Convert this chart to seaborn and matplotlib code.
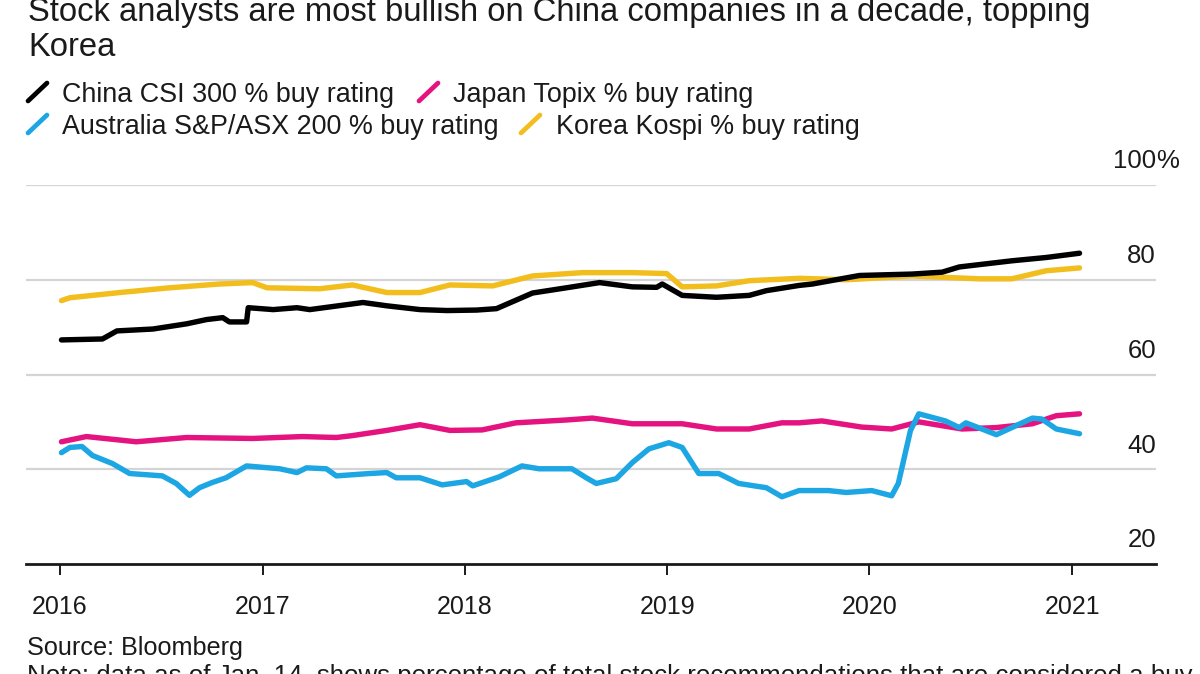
import matplotlib
matplotlib.use("Agg")
import matplotlib.pyplot as plt
from matplotlib.lines import Line2D
import seaborn as sns
import pandas as pd

# ---------------- data ----------------
china_dates = ["2016-01-04", "2016-03-18", "2016-04-13", "2016-06-17", "2016-08-17", "2016-09-22",
               "2016-10-21", "2016-11-02", "2016-12-03", "2016-12-06", "2017-01-20", "2017-03-04",
               "2017-03-27", "2017-06-12", "2017-07-01", "2017-08-13", "2017-10-12", "2017-11-30",
               "2018-01-22", "2018-02-27", "2018-05-03", "2018-07-03", "2018-09-01", "2018-10-30",
               "2018-12-13", "2018-12-23", "2019-01-28", "2019-03-31", "2019-05-29", "2019-06-29",
               "2019-08-27", "2019-09-20", "2019-12-14", "2020-03-18", "2020-05-11", "2020-06-11",
               "2020-09-14", "2020-11-15", "2021-01-14"]
china_vals = [67.3, 67.5, 69.2, 69.6, 70.7, 71.6,
              72.0, 71.1, 71.1, 74.1, 73.7, 74.1,
              73.7, 74.9, 75.2, 74.5, 73.7, 73.5,
              73.6, 73.9, 77.2, 78.3, 79.4, 78.5,
              78.4, 79.1, 76.7, 76.3, 76.7, 77.7,
              78.8, 79.1, 80.9, 81.2, 81.6, 82.7,
              84.0, 84.7, 85.6]

korea_dates = ["2016-01-04", "2016-01-19", "2016-04-18", "2016-07-17", "2016-10-15", "2016-12-14",
               "2017-01-09", "2017-04-14", "2017-06-12", "2017-08-13", "2017-10-12", "2017-12-05",
               "2018-02-20", "2018-05-03", "2018-08-01", "2018-10-30", "2018-12-31", "2019-01-28",
               "2019-03-31", "2019-05-29", "2019-08-27", "2019-11-20", "2020-03-18", "2020-07-17",
               "2020-09-14", "2020-11-15", "2021-01-14"]
korea_vals = [75.6, 76.2, 77.3, 78.3, 79.1, 79.4,
              78.3, 78.1, 78.9, 77.3, 77.3, 78.9,
              78.7, 80.8, 81.5, 81.5, 81.3, 78.5,
              78.7, 79.8, 80.3, 80.0, 80.8, 80.2,
              80.2, 81.9, 82.5]

japan_dates = ["2016-01-04", "2016-02-18", "2016-05-18", "2016-08-17", "2016-12-14", "2017-03-14",
               "2017-05-14", "2017-06-12", "2017-08-13", "2017-10-12", "2017-12-05", "2018-02-01",
               "2018-04-03", "2018-07-03", "2018-08-19", "2018-10-30", "2019-01-28", "2019-03-31",
               "2019-05-29", "2019-07-27", "2019-08-27", "2019-10-07", "2019-12-18", "2020-02-10",
               "2020-03-30", "2020-06-16", "2020-08-17", "2020-10-21", "2020-12-03", "2021-01-14"]
japan_vals = [45.8, 46.9, 45.8, 46.7, 46.5, 46.9,
              46.7, 47.1, 48.2, 49.4, 48.2, 48.3,
              49.8, 50.4, 50.8, 49.6, 49.6, 48.5,
              48.5, 49.8, 49.8, 50.2, 48.9, 48.5,
              50.0, 48.5, 48.8, 49.6, 51.3, 51.7]

aus_dates = ["2016-01-04", "2016-01-19", "2016-02-10", "2016-02-29", "2016-04-05", "2016-05-06",
             "2016-07-04", "2016-07-29", "2016-08-22", "2016-09-09", "2016-10-02", "2016-10-27",
             "2016-12-03", "2017-02-01", "2017-03-04", "2017-03-21", "2017-04-26", "2017-05-14",
             "2017-07-13", "2017-08-13", "2017-08-30", "2017-10-12", "2017-11-21", "2018-01-04",
             "2018-01-15", "2018-03-04", "2018-04-14", "2018-05-15", "2018-07-13", "2018-08-08",
             "2018-08-26", "2018-10-01", "2018-10-30", "2018-11-29", "2019-01-04", "2019-01-28",
             "2019-02-27", "2019-04-04", "2019-05-10", "2019-06-29", "2019-07-27", "2019-08-27",
             "2019-10-19", "2019-11-20", "2020-01-05", "2020-02-10", "2020-02-22", "2020-03-15",
             "2020-03-30", "2020-05-17", "2020-06-11", "2020-06-23", "2020-08-17", "2020-09-14",
             "2020-10-21", "2020-11-07", "2020-12-03", "2021-01-14"]
aus_vals = [43.5, 44.6, 44.8, 42.9, 41.2, 39.1,
            38.6, 37.0, 34.5, 36.1, 37.2, 38.2,
            40.7, 40.1, 39.3, 40.3, 40.1, 38.6,
            39.1, 39.3, 38.2, 38.2, 36.7, 37.4,
            36.5, 38.4, 40.7, 40.1, 40.1, 38.2,
            37.0, 38.0, 41.4, 44.3, 45.6, 44.6,
            39.1, 39.1, 37.0, 36.1, 34.2, 35.5,
            35.5, 35.1, 35.5, 34.4, 37.0, 48.2,
            51.7, 50.2, 48.8, 49.8, 47.3, 48.8,
            50.8, 50.6, 48.5, 47.5]

series_names = ["China CSI 300 % buy rating", "Japan Topix % buy rating",
                "Australia S&P/ASX 200 % buy rating", "Korea Kospi % buy rating"]
series_colors = ["#000000", "#E5137F", "#1DA6E4", "#F2BE1E"]
y_ticks = [20, 40, 60, 80, 100]
x_years = [2016, 2017, 2018, 2019, 2020, 2021]

title_lines = ["Stock analysts are most bullish on China companies in a decade, topping", "Korea"]
source_text = "Source: Bloomberg"
note_text = ("Note: data as of Jan. 14, shows percentage of total stock recommendations "
             "that are considered a buy")

# ---------------- build long table ----------------
frames = []
for name, d, v in zip(series_names,
                      [china_dates, japan_dates, aus_dates, korea_dates],
                      [china_vals, japan_vals, aus_vals, korea_vals]):
    frames.append(pd.DataFrame({"date": pd.to_datetime(d), "value": v, "series": name}))
df = pd.concat(frames, ignore_index=True)

# ---------------- style ----------------
sns.set_theme(style="white")
plt.rcParams["font.family"] = ["Liberation Sans", "DejaVu Sans"]
TXT = "#1a1a1a"

W, H = 1200, 674
fig = plt.figure(figsize=(W / 100, H / 100), dpi=100)
fig.patch.set_facecolor("white")


def fx(px):
    return px / W


def fy(py):
    return 1 - py / H


ax_left, ax_right, ax_top, ax_bot = 26, 1156, 185, 564
ax = fig.add_axes([fx(ax_left), fy(ax_bot), fx(ax_right - ax_left), (ax_bot - ax_top) / H])
ax.set_facecolor("white")

order = ["Korea Kospi % buy rating", "Japan Topix % buy rating",
         "Australia S&P/ASX 200 % buy rating", "China CSI 300 % buy rating"]
pal = dict(zip(series_names, series_colors))
for name in order:
    sns.lineplot(data=df[df["series"] == name], x="date", y="value", color=pal[name],
                 linewidth=3.9, estimator=None, sort=True, ax=ax, legend=False,
                 solid_capstyle="round", solid_joinstyle="round", zorder=3)

ax.set_xlim(pd.Timestamp("2015-11-01"), pd.Timestamp("2021-06-01"))
ax.set_ylim(20, 100)

for yv in y_ticks[1:]:
    ax.axhline(yv, color="#d4d4d4", linewidth=1.6, zorder=1)

for s in ["top", "left", "right"]:
    ax.spines[s].set_visible(False)
ax.spines["bottom"].set_color("#1a1a1a")
ax.spines["bottom"].set_linewidth(2.0)
ax.spines["bottom"].set_zorder(4)

ax.set_xticks([pd.Timestamp(f"{y}-01-01") for y in x_years])
ax.set_xticklabels([str(y) for y in x_years], fontsize=18, color=TXT)
ax.tick_params(axis="x", direction="out", length=8, width=1.4, color="#1a1a1a", pad=14,
               bottom=True)
ax.set_yticks([])
ax.set_xlabel("")
ax.set_ylabel("")

for yv in y_ticks:
    ax.annotate(str(yv), xy=(1.0, yv), xycoords=("axes fraction", "data"),
                xytext=(0, 12), textcoords="offset points", ha="right", va="baseline",
                fontsize=18.5, color=TXT)
ax.annotate("%", xy=(1.0, 100), xycoords=("axes fraction", "data"),
            xytext=(0, 12), textcoords="offset points", ha="left", va="baseline",
            fontsize=18.5, color=TXT)

# title
fig.text(fx(28), fy(21), title_lines[0], fontsize=23.6, color=TXT, ha="left", va="baseline")
fig.text(fx(28), fy(56), title_lines[1], fontsize=23.6, color=TXT, ha="left", va="baseline")

# legend (manual, two rows)
legend_items = [
    (series_names[0], series_colors[0], 28, 62, 102),
    (series_names[1], series_colors[1], 419, 453, 102),
    (series_names[2], series_colors[2], 28, 62, 134),
    (series_names[3], series_colors[3], 521, 556, 134),
]
for name, col, mx, tx, base in legend_items:
    fig.add_artist(Line2D([fx(mx), fx(mx + 19)], [fy(base - 1), fy(base - 19)],
                          transform=fig.transFigure, color=col, linewidth=3.4,
                          solid_capstyle="round"))
    fig.text(fx(tx), fy(base), name, fontsize=19.4, color=TXT, ha="left", va="baseline")

# source and note (note is cut at the bottom edge, as in the original)
fig.text(fx(27), fy(655), source_text, fontsize=18.2, color=TXT, ha="left", va="baseline")
fig.text(fx(27), fy(683), note_text, fontsize=18.6, color=TXT, ha="left", va="baseline")

fig.savefig("out.png", dpi=100, facecolor="white")
